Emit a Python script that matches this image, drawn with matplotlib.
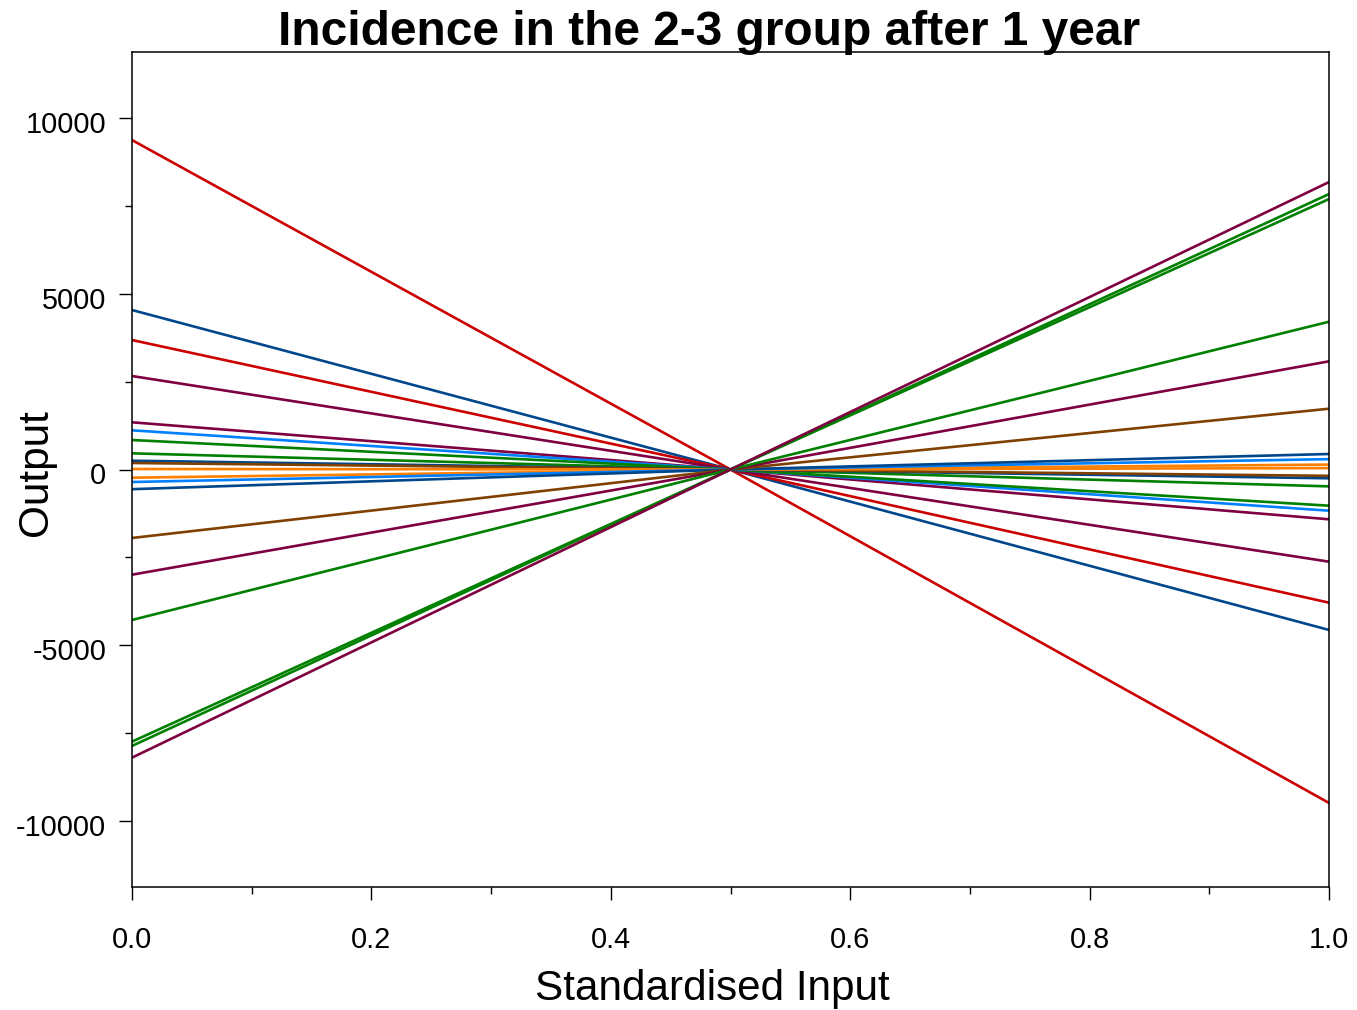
import numpy as np
import matplotlib.pyplot as plt
import matplotlib.transforms as mtransforms
from matplotlib.ticker import MultipleLocator

plt.rcParams['font.family'] = ['Liberation Sans', 'DejaVu Sans']

# Standardised input points
x_pts = [0.0, 0.5, 1.0]

# Output of each run at x = 0, 0.5 and 1
out_at_0 = [9374, 4538, 3684, 2660, 1343, 1115, 839, 460, 250, 185,
            14, -233, -356, -560, -1949, -2993, -4282, -7744, -7866, -8199]
out_at_mid = [0] * 20
out_at_1 = [-9488, -4566, -3789, -2623, -1417, -1172, -1030, -480, -250, -180,
            40, 140, 295, 441, 1730, 3078, 4205, 7838, 7696, 8179]

red = '#CC0000'
dblue = '#00468B'
purple = '#7F0040'
green = '#008000'
lblue = '#0080FF'
orange = '#FF8000'
brown = '#804000'
line_colors = [red, dblue, red, purple, purple, lblue, green, green, dblue, brown,
               orange, orange, lblue, dblue, brown, purple, green, green, green, purple]

fig = plt.figure(figsize=(13.57, 10.10), dpi=100)
ax = fig.add_axes([132 / 1357, 123 / 1010, 1197 / 1357, 835 / 1010])

for i in range(len(out_at_0)):
    ys = [out_at_0[i], out_at_mid[i], out_at_1[i]]
    ax.plot(x_pts, ys, color=line_colors[i], linewidth=1.9)

ax.set_xlim(0, 1)
ax.set_ylim(-11880, 11880)
ax.xaxis.set_major_locator(MultipleLocator(0.2))
ax.xaxis.set_minor_locator(MultipleLocator(0.1))
ax.yaxis.set_major_locator(MultipleLocator(5000))
ax.yaxis.set_minor_locator(MultipleLocator(2500))
ax.xaxis.set_major_formatter(plt.FuncFormatter(lambda v, p: f'{v:.1f}'))
ax.yaxis.set_major_formatter(plt.FuncFormatter(lambda v, p: f'{v:.0f}'))

ax.tick_params(axis='both', which='major', direction='out', length=9.5, width=1,
               labelsize=20.8)
ax.tick_params(axis='both', which='minor', direction='out', length=4.7, width=1)
ax.tick_params(axis='x', which='major', pad=18.5)
ax.tick_params(axis='y', which='major', pad=9)
for s in ax.spines.values():
    s.set_linewidth(1.1)

# y labels sit a little below their ticks in the original
shift = mtransforms.ScaledTranslation(0, -4 / 100, fig.dpi_scale_trans)
for lab in ax.get_yticklabels():
    lab.set_transform(lab.get_transform() + shift)

fig.text(709 / 1357, 1 - 45 / 1010, 'Incidence in the 2-3 group after 1 year',
         ha='center', va='baseline', fontsize=34.5, fontweight='bold')
fig.text(712 / 1357, 1 - 1000 / 1010, 'Standardised Input',
         ha='center', va='baseline', fontsize=30.4)
fig.text(36 / 1357, 1 - 473 / 1010, 'Output', rotation=90,
         ha='center', va='center', fontsize=30.4)

fig.savefig('out.png', dpi=100)
